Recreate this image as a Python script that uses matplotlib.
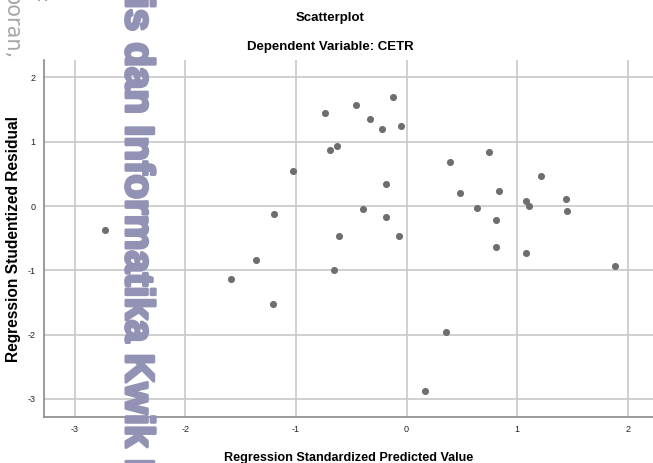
import matplotlib.pyplot as plt
import matplotlib.patheffects as pe
import numpy as np

# predicted (standardized) vs studentized residual
pred = [-2.73, -1.59, -1.36, -1.20, -1.21, -1.03, -0.74, -0.69, -0.63, -0.61,
        -0.66, -0.46, -0.33, -0.22, -0.12, -0.05, -0.19, -0.39, -0.19, -0.07,
        0.17, 0.36, 0.39, 0.75, 0.48, 0.84, 0.64, 0.81, 0.81, 1.08,
        1.11, 1.22, 1.44, 1.45, 1.08, 1.89]
resid = [-0.38, -1.14, -0.84, -0.13, -1.52, 0.54, 1.45, 0.87, 0.94, -0.46,
         -0.99, 1.57, 1.35, 1.19, 1.70, 1.24, 0.34, -0.05, -0.17, -0.47,
         -2.87, -1.96, 0.69, 0.84, 0.20, 0.24, -0.03, -0.21, -0.63, 0.08,
         0.00, 0.47, 0.11, -0.08, -0.73, -0.93]
xticks = [-3, -2, -1, 0, 1, 2]
yticks = [-3, -2, -1, 0, 1, 2]

plt.rcParams['font.family'] = ['Liberation Sans', 'DejaVu Sans']

fig = plt.figure(figsize=(6.53, 4.63), dpi=100)
ax = fig.add_axes([44/653, 46/463, 1 - 44/653, (417 - 60)/463])

ax.scatter(pred, resid, s=26, color='#6e6e6e', zorder=3, linewidths=0)
ax.set_xlim(-3.28, 2.23)
ax.set_ylim(-3.28, 2.27)
ax.set_xticks(xticks)
ax.set_yticks(yticks)
ax.set_xticklabels([str(t) for t in xticks], fontsize=6.5)
ax.set_yticklabels([str(t) for t in yticks], fontsize=6.5)
ax.tick_params(length=0, pad=6, colors='#222222')
ax.grid(True, color='#c8c8c8', linewidth=1.2, zorder=0)
ax.set_axisbelow(True)
for s in ['top', 'right']:
    ax.spines[s].set_visible(False)
for s in ['left', 'bottom']:
    ax.spines[s].set_color('#8a8a8a')
    ax.spines[s].set_linewidth(1.2)

ax.set_xlabel('Regression Standardized Predicted Value', fontsize=9.1,
              fontweight='bold', labelpad=13)
ax.set_ylabel('Regression Studentized Residual', fontsize=11.2,
              fontweight='bold', labelpad=5)

fig.text(330/653, 1 - 18/463, 'Scatterplot', ha='center', va='center',
         fontsize=9.5, fontweight='bold')
fig.text(330/653, 1 - 47/463, 'Dependent Variable: CETR', ha='center',
         va='center', fontsize=9.5, fontweight='bold')

# watermark
wm = fig.text(137/653, 1 + 27/463, 'nis dan Informatika Kwik Kian Gie',
              rotation=-90, ha='center', va='top', fontsize=29,
              fontweight='bold', color='#9292b4')
wm.set_path_effects([pe.withStroke(linewidth=2.2, foreground='#9292b4')])
fig.text(11/653, 1 + 8/463, 'poran,', rotation=-90, ha='center', va='top',
         fontsize=15, color='#a6a6a6', family='DejaVu Sans')
fig.text(40/653, 1 + 2/463, ':', rotation=-90, ha='center', va='top',
         fontsize=13, color='#a6a6a6', family='DejaVu Sans')

fig.savefig('out.png', dpi=100)
